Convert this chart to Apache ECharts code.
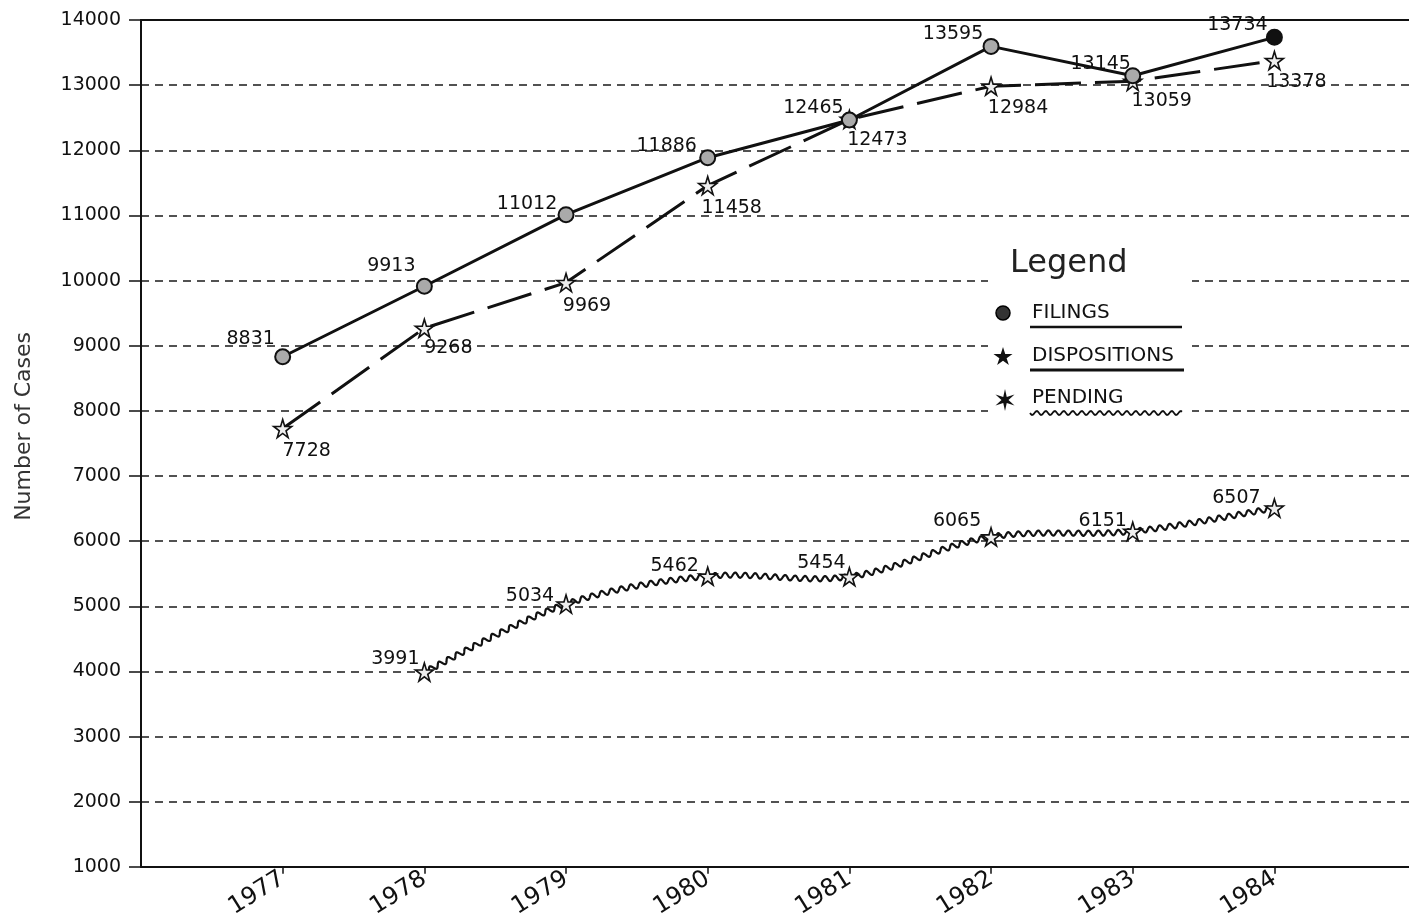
<!DOCTYPE html>
<html>
<head>
<meta charset="utf-8">
<script src="https://cdn.jsdelivr.net/npm/echarts@6/dist/echarts.min.js"></script>
<style>html,body{margin:0;padding:0;background:#fff}#c{width:1409px;height:921px}</style>
</head>
<body>
<div id="c"></div>
<script>
const years = [1977, 1978, 1979, 1980, 1981, 1982, 1983, 1984];
const filings = [8831, 9913, 11012, 11886, 12465, 13595, 13145, 13734];
const dispositions = [7728, 9268, 9969, 11458, 12473, 12984, 13059, 13378];
const pendingYears = [1978, 1979, 1980, 1981, 1982, 1983, 1984];
const pending = [3991, 5034, 5462, 5454, 6065, 6151, 6507];
const yName = 'Number of Cases';
const legendTitle = 'Legend';
const seriesNames = ['FILINGS', 'DISPOSITIONS', 'PENDING'];

// label placement (style, kept separate from data)
const filOff = [[-32,-18],[-33,-20],[-39,-11],[-41,-12],[-36,-12],[-38,-12],[-32,-12],[-37,-12]];
const disOff = [[24,22],[24,20],[21,23],[24,22],[28,21],[27,22],[29,20],[22,22]];
const penOff = [[-29,-13],[-36,-8],[-33,-10],[-28,-14],[-34,-16],[-30,-10],[-38,-10]];

const FONT = 'DejaVu Sans';
const starPath = 'path://M50,0 L61,35 L98,35 L68,57 L79,91 L50,70 L21,91 L32,57 L2,35 L39,35 Z';

function starPoints(cx, cy, R, r, n) {
  const pts = [];
  for (let k = 0; k < 2 * n; k++) {
    const a = -Math.PI / 2 + k * Math.PI / n;
    const rad = k % 2 === 0 ? R : r;
    pts.push([cx + rad * Math.cos(a), cy + rad * Math.sin(a)]);
  }
  return pts;
}
function wavyPoints(x0, x1, y, amp, wl) {
  const pts = [];
  for (let x = x0; x <= x1; x += 1) pts.push([x, y + amp * Math.sin(2 * Math.PI * (x - x0) / wl)]);
  return pts;
}

function mkLabelData(xs, vals, offs, sty) {
  return xs.map((x, i) => ({
    value: [x, vals[i]],
    label: { offset: offs[i] },
    itemStyle: sty ? sty(i) : undefined
  }));
}

const labelBase = { show: true, position: 'inside', fontFamily: FONT, fontSize: 19, color: '#111', formatter: p => String(p.value[1]) };

const chart = echarts.init(document.getElementById('c'), null, { renderer: 'canvas' });

const option = {
  backgroundColor: '#fff',
  animation: false,
  grid: { left: 141, right: 0, top: 20, bottom: 53, show: false },
  xAxis: [{
    type: 'value', min: 1976, max: 1984.95, interval: 1,
    axisLine: { show: true, lineStyle: { color: '#111', width: 2 } },
    axisTick: { show: true, length: 7, customValues: years, lineStyle: { color: '#111', width: 1.5 } },
    axisLabel: { rotate: 32, fontSize: 24, fontFamily: FONT, color: '#111', margin: 10, customValues: years,
      formatter: v => (years.indexOf(v) >= 0 ? String(v) : '') },
    splitLine: { show: false }
  }, {
    type: 'value', position: 'top', min: 1976, max: 1984.95,
    axisLine: { show: true, lineStyle: { color: '#111', width: 2 } },
    axisTick: { show: false }, axisLabel: { show: false }, splitLine: { show: false }
  }],
  yAxis: {
    type: 'value', min: 1000, max: 14000, interval: 1000,
    name: yName, nameLocation: 'middle', nameGap: 106, nameRotate: 90,
    nameTextStyle: { fontFamily: FONT, fontSize: 22, color: '#333', padding: [0, 0, 0, 34] },
    axisLine: { show: true, lineStyle: { color: '#111', width: 2 } },
    axisTick: { show: true, length: 12, lineStyle: { color: '#111', width: 1.5 } },
    axisLabel: { fontSize: 19, fontFamily: FONT, color: '#111', margin: 20, formatter: v => String(v) },
    splitLine: { show: true, lineStyle: { color: '#1a1a1a', width: 1.7, type: [8, 6] } }
  },
  series: [
    {
      name: seriesNames[0], type: 'line', z: 4,
      data: mkLabelData(years, filings, filOff, i => (i === years.length - 1 ? { color: '#111' } : undefined)),
      symbol: 'circle', symbolSize: 15,
      lineStyle: { color: '#111', width: 3 },
      itemStyle: { color: '#aaa', borderColor: '#111', borderWidth: 2 },
      label: labelBase
    },
    {
      name: seriesNames[1], type: 'line', z: 3,
      data: mkLabelData(years, dispositions, disOff),
      symbol: starPath, symbolSize: 18,
      lineStyle: { color: '#111', width: 3, type: [46, 14] },
      itemStyle: { color: '#eee', borderColor: '#111', borderWidth: 1.6 },
      label: labelBase
    },
    {
      name: seriesNames[2] + '_wave', type: 'custom', coordinateSystem: 'cartesian2d', z: 2,
      encode: { x: 0, y: 1 },
      data: pendingYears.map((y, i) => [y, pending[i]]),
      renderItem: function (params, api) {
        const i = params.dataIndex;
        const n = pendingYears.length;
        if (i >= n - 1) return null;
        const P = pendingYears.map((y, k) => api.coord([y, pending[k]]));
        const p0 = P[Math.max(i - 1, 0)], p1 = P[i], p2 = P[i + 1], p3 = P[Math.min(i + 2, n - 1)];
        const cr = (a, b, c, d, t) => 0.5 * (2 * b + (-a + c) * t + (2 * a - 5 * b + 4 * c - d) * t * t + (-a + 3 * b - 3 * c + d) * t * t * t);
        const N = 300, base = [];
        for (let s = 0; s <= N; s++) {
          const t = s / N;
          base.push([cr(p0[0], p1[0], p2[0], p3[0], t), cr(p0[1], p1[1], p2[1], p3[1], t)]);
        }
        const out = [];
        let len = 0;
        const amp = 2.6, wl = 10;
        for (let s = 0; s <= N; s++) {
          if (s > 0) len += Math.hypot(base[s][0] - base[s - 1][0], base[s][1] - base[s - 1][1]);
          const a = base[Math.max(s - 1, 0)], b = base[Math.min(s + 1, N)];
          let dx = b[0] - a[0], dy = b[1] - a[1];
          const L = Math.hypot(dx, dy) || 1;
          dx /= L; dy /= L;
          const w = amp * Math.sin(2 * Math.PI * len / wl);
          out.push([base[s][0] - dy * w, base[s][1] + dx * w]);
        }
        return { type: 'polyline', shape: { points: out }, style: { stroke: '#111', lineWidth: 2.2, fill: null } };
      }
    },
    {
      name: seriesNames[2], type: 'line', z: 4,
      data: mkLabelData(pendingYears, pending, penOff),
      symbol: starPath, symbolSize: 18,
      lineStyle: { width: 0, opacity: 0 },
      itemStyle: { color: '#eee', borderColor: '#111', borderWidth: 1.6 },
      label: labelBase
    }
  ],
  graphic: [
    { type: 'rect', z: 50, shape: { x: 988, y: 238, width: 204, height: 180 }, style: { fill: '#fff' } },
    { type: 'text', z: 51, x: 1010, y: 264, style: { text: legendTitle, font: '32px "' + FONT + '"', fill: '#222', textVerticalAlign: 'middle' } },
    { type: 'circle', z: 51, shape: { cx: 1003, cy: 313, r: 7 }, style: { fill: '#333', stroke: '#000', lineWidth: 1.5 } },
    { type: 'polygon', z: 51, shape: { points: starPoints(1003, 357, 10, 3.8, 5) }, style: { fill: '#111' } },
    { type: 'polygon', z: 51, shape: { points: starPoints(1005, 400, 11, 3.5, 6) }, style: { fill: '#111' } },
    { type: 'text', z: 51, x: 1032, y: 313, style: { text: seriesNames[0], font: '20px "' + FONT + '"', fill: '#111', textVerticalAlign: 'middle' } },
    { type: 'text', z: 51, x: 1032, y: 356, style: { text: seriesNames[1], font: '20px "' + FONT + '"', fill: '#111', textVerticalAlign: 'middle' } },
    { type: 'text', z: 51, x: 1032, y: 398, style: { text: seriesNames[2], font: '20px "' + FONT + '"', fill: '#111', textVerticalAlign: 'middle' } },
    { type: 'line', z: 51, shape: { x1: 1030, y1: 327, x2: 1182, y2: 327 }, style: { stroke: '#111', lineWidth: 2.5 } },
    { type: 'line', z: 51, shape: { x1: 1030, y1: 370, x2: 1184, y2: 370 }, style: { stroke: '#111', lineWidth: 3 } },
    { type: 'polyline', z: 51, shape: { points: wavyPoints(1030, 1182, 413, 2, 9) }, style: { stroke: '#111', lineWidth: 1.8, fill: null } }
  ]
};
chart.setOption(option);
</script>
</body>
</html>
